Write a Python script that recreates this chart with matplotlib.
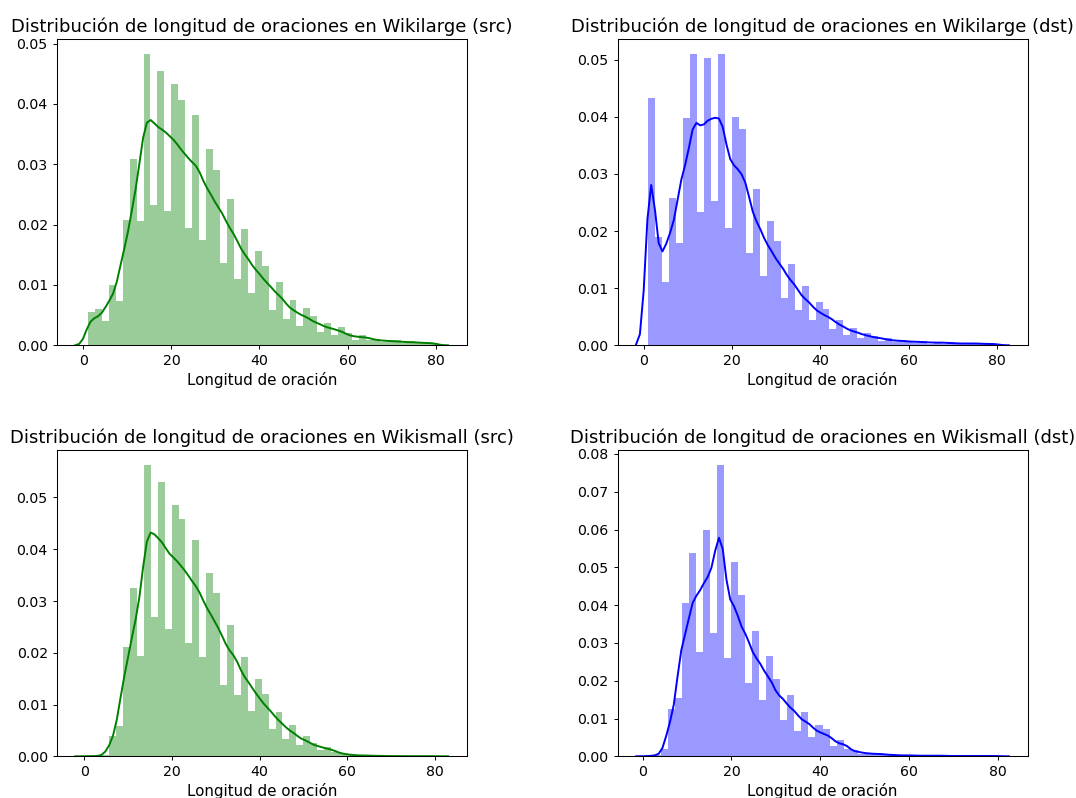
import numpy as np
import matplotlib
matplotlib.use("Agg")
import matplotlib.pyplot as plt

# ---------------- data ----------------
len_min, len_max, n_bins = 1, 80, 50

titles = [
    "Distribución de longitud de oraciones en Wikilarge (src)",
    "Distribución de longitud de oraciones en Wikilarge (dst)",
    "Distribución de longitud de oraciones en Wikismall (src)",
    "Distribución de longitud de oraciones en Wikismall (dst)",
]
xlabel = "Longitud de oración"

# histogram densities per bin (50 bins between len_min and len_max)
wikilarge_src = [0.0055, 0.0060, 0.0040, 0.0100, 0.0073, 0.0207, 0.0308, 0.0206, 0.0483, 0.0233,
                 0.0455, 0.0223, 0.0433, 0.0407, 0.0194, 0.0381, 0.0174, 0.0325, 0.0290, 0.0136,
                 0.0242, 0.0110, 0.0192, 0.0086, 0.0156, 0.0132, 0.0059, 0.0105, 0.0043, 0.0075,
                 0.0032, 0.0061, 0.0048, 0.0022, 0.0037, 0.0017, 0.0030, 0.0020, 0.0009, 0.0017,
                 0.0008, 0.0011, 0.0005, 0.0009, 0.0008, 0.00034, 0.00065, 0.0003, 0.0005, 0.00045]
wikilarge_dst = [0.0433, 0.0189, 0.0110, 0.0258, 0.0179, 0.0397, 0.0509, 0.0233, 0.0503, 0.0252,
                 0.0510, 0.0205, 0.0400, 0.0379, 0.0161, 0.0274, 0.0122, 0.0217, 0.0183, 0.0082,
                 0.0142, 0.0061, 0.0103, 0.0045, 0.0075, 0.0064, 0.0028, 0.0045, 0.0018, 0.0031,
                 0.0013, 0.0022, 0.0017, 0.0008, 0.0012, 0.0005, 0.0010, 0.0008, 0.0004, 0.0007,
                 0.0003, 0.0006, 0.0003, 0.0005, 0.0004, 0.0002, 0.0004, 0.0002, 0.0003, 0.0003]
wikismall_src = [0.00005, 0.00005, 0.0002, 0.0039, 0.0059, 0.0212, 0.0325, 0.0194, 0.0563, 0.0269,
                 0.0529, 0.0246, 0.0486, 0.0459, 0.0218, 0.0417, 0.0191, 0.0354, 0.0315, 0.0138,
                 0.0253, 0.0119, 0.0191, 0.0088, 0.0149, 0.0120, 0.0053, 0.0086, 0.0034, 0.0060,
                 0.0021, 0.0040, 0.0026, 0.0012, 0.0018, 0.0008, 0.0007, 0.0004, 0.0001, 0.0002,
                 0.0001, 0.0001, 0.00005, 0.00005, 0.00005, 0.00002, 0.00003, 0.00002, 0.00003, 0.00003]
wikismall_dst = [0.0001, 0.0004, 0.0019, 0.0126, 0.0153, 0.0406, 0.0537, 0.0277, 0.0600, 0.0325,
                 0.0771, 0.0259, 0.0515, 0.0426, 0.0193, 0.0331, 0.0149, 0.0266, 0.0205, 0.0095,
                 0.0161, 0.0068, 0.0118, 0.0052, 0.0083, 0.0072, 0.0027, 0.0042, 0.0020, 0.0017,
                 0.0007, 0.0010, 0.0008, 0.0004, 0.0005, 0.0002, 0.0003, 0.0003, 0.0001, 0.0002,
                 0.0001, 0.0002, 0.0001, 0.0001, 0.0001, 0.00005, 0.0001, 0.00005, 0.0001, 0.0001]

series = [wikilarge_src, wikilarge_dst, wikismall_src, wikismall_dst]
bandwidths = [0.95, 0.9, 1.0, 0.82]
colors = ["g", "b", "g", "b"]

# ---------------- figure ----------------
W, H = 1076, 798
fig = plt.figure(figsize=(W / 100, H / 100), dpi=100)

ax_w, ax_h = 410 / W, 306 / H
positions = [
    (56.7 / W, 1 - 345.3 / H),
    (617.5 / W, 1 - 345.3 / H),
    (56.7 / W, 1 - 756.3 / H),
    (617.5 / W, 1 - 756.3 / H),
]

edges = np.linspace(len_min, len_max, n_bins + 1)
lengths = np.arange(len_min, len_max + 1)

for i in range(4):
    ax = fig.add_axes([positions[i][0], positions[i][1], ax_w, ax_h])
    heights = np.array(series[i])
    col = colors[i]
    ax.bar(edges[:-1], heights, width=np.diff(edges), align="edge",
           color=col, alpha=0.4, linewidth=0)

    # KDE on the integer lengths, each bin's mass shared by the lengths it holds
    idx = np.clip(np.searchsorted(edges, lengths, side="right") - 1, 0, n_bins - 1)
    mass = heights * np.diff(edges)
    counts = np.bincount(idx, minlength=n_bins)
    w = mass[idx] / counts[idx]
    w = w / w.sum()
    bw = bandwidths[i]
    grid = np.linspace(len_min - 3 * bw, len_max + 3 * bw, 100)
    dens = (w[None, :] * np.exp(-0.5 * ((grid[:, None] - lengths[None, :]) / bw) ** 2)).sum(1) / (bw * np.sqrt(2 * np.pi))
    ax.plot(grid, dens, color=col, lw=1.4)

    ax.set_title(titles[i], fontsize=13.0, pad=5.5)
    ax.set_xlabel(xlabel, fontsize=10.9, labelpad=3)
    ax.tick_params(labelsize=10.2, length=3.2, width=0.7, pad=3.2)
    for s in ax.spines.values():
        s.set_linewidth(0.75)
    ax.set_ylim(bottom=0)

fig.savefig("out.png", dpi=100)
